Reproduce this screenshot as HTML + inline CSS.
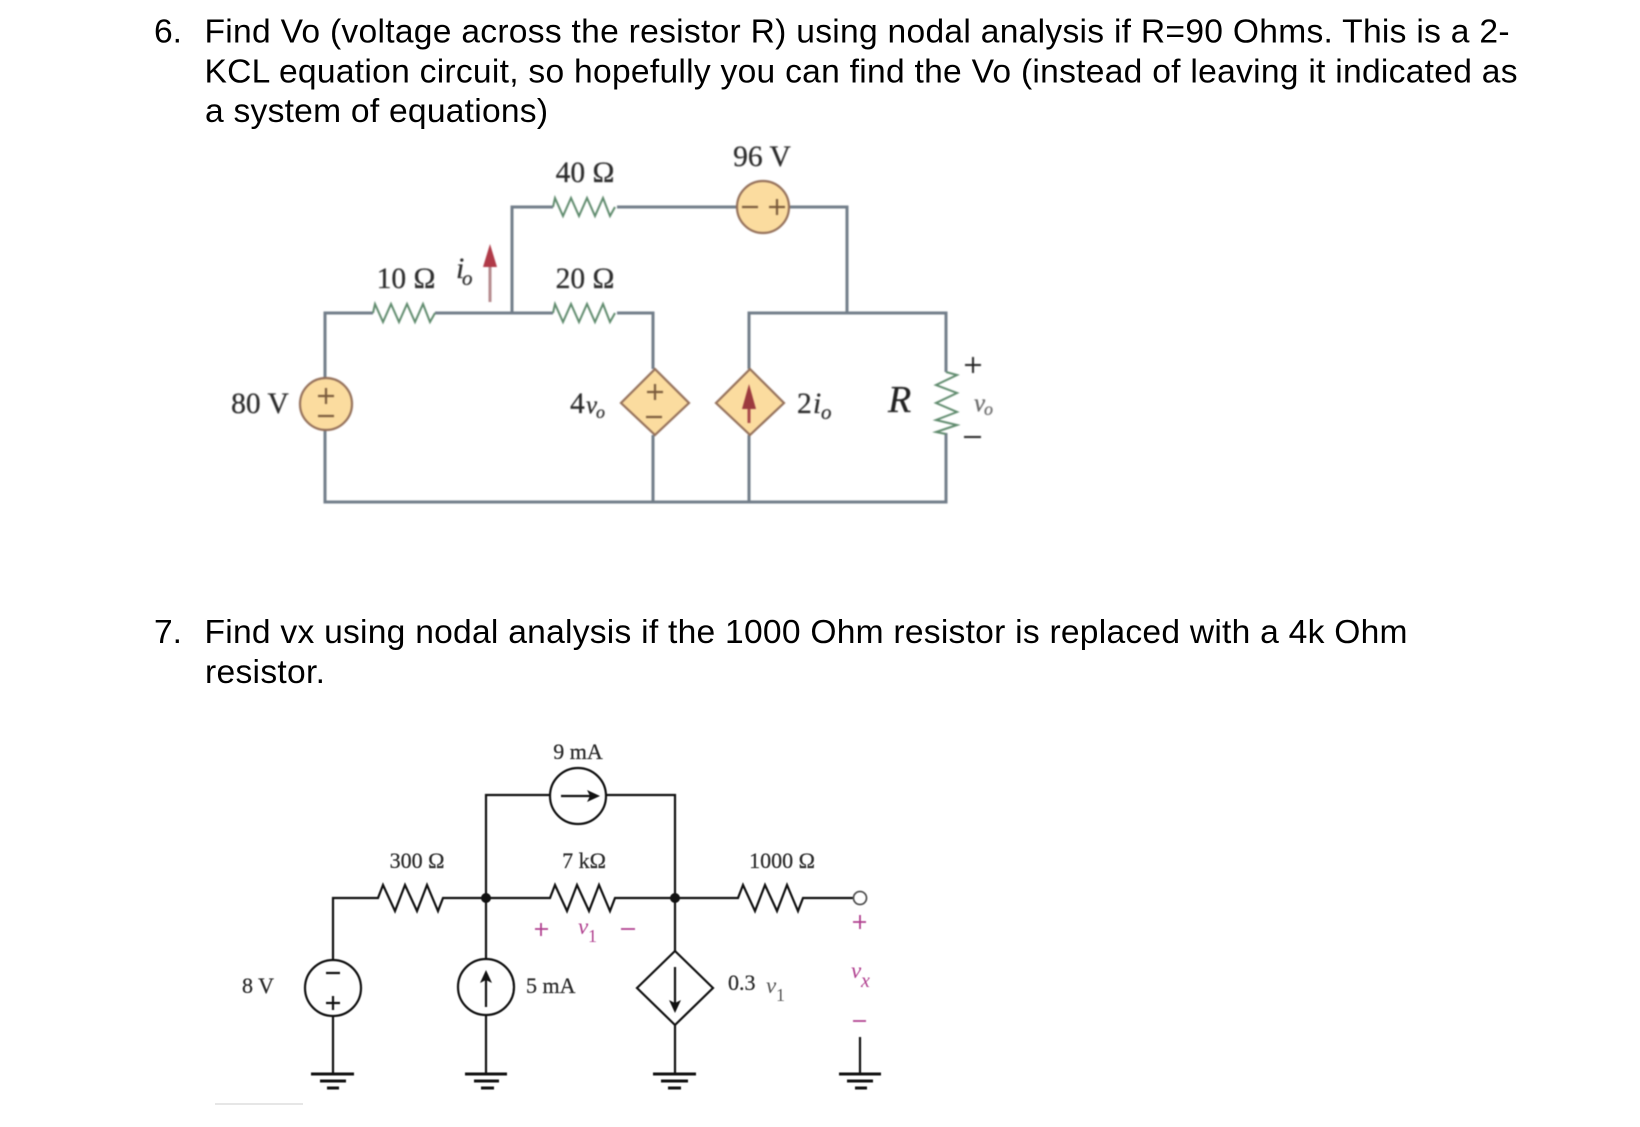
<!DOCTYPE html>
<html><head><meta charset="utf-8"><title>Nodal analysis problems</title>
<style>
html,body{margin:0;padding:0;background:#fff;width:1640px;height:1127px;overflow:hidden}
svg{display:block}
.q{font-family:"Liberation Sans",Arial,sans-serif;font-size:33.6px;fill:#000}
.s{font-family:"Liberation Serif",serif;fill:#2a2a2a;stroke:#2a2a2a;stroke-width:.25px}
.i{font-style:italic}
.c1{filter:blur(.7px)}
.c2{filter:blur(.45px)}
</style></head><body>
<svg width="1640" height="1127" viewBox="0 0 1640 1127" xmlns="http://www.w3.org/2000/svg">
<rect width="1640" height="1127" fill="#fff"/>
<text class="q" x="154" y="42.5">6.</text>
<text class="q" x="204.5" y="42.5" textLength="1305" lengthAdjust="spacing">Find Vo (voltage across the resistor R) using nodal analysis if R=90 Ohms. This is a 2-</text>
<text class="q" x="204.5" y="82.5" textLength="1313" lengthAdjust="spacing">KCL equation circuit, so hopefully you can find the Vo (instead of leaving it indicated as</text>
<text class="q" x="205" y="122" textLength="343" lengthAdjust="spacing">a system of equations)</text>
<text class="q" x="154" y="643">7.</text>
<text class="q" x="204.5" y="643" textLength="1203" lengthAdjust="spacing">Find vx using nodal analysis if the 1000 Ohm resistor is replaced with a 4k Ohm</text>
<text class="q" x="205" y="683" textLength="120" lengthAdjust="spacing">resistor.</text>

<g class="c1">
<g fill="none" stroke="#717d89" stroke-width="3">
<path d="M512 313V207H553M617 207H737M789 207H847V313"/>
<path d="M325 378V313H373M435 313H553M617 313H653V369M653 435V502M325 430V502H946V433M946 372V313H749V369M749 435V502"/>
</g>
<g fill="none" stroke="#5e8a6c" stroke-width="2">
<path d="M553 207l2 -9l8 18l8 -18l8 18l8 -18l8 18l8 -18l7 18l5 -9"/>
<path d="M553 313l2 -9l8 18l8 -18l8 18l8 -18l8 18l8 -18l7 18l5 -9"/>
<path d="M373 313l2 -9l8 18l8 -18l8 18l8 -18l8 18l8 -18l7 18l5 -9"/>
<path d="M946 372L957 375L936 385L957 393L936 403L957 412L936 420L957 425L936 432L946 434"/>
</g>
<g fill="#fbdc9f" stroke="#94705a" stroke-width="2.2">
<circle cx="326" cy="404" r="26"/>
<circle cx="763" cy="207" r="26"/>
<path d="M655 369L689 403L655 435L621 403Z"/>
<path d="M750 369L784 403L750 435L716 403Z"/>
</g>
<g fill="none" stroke="#7a5b3c" stroke-width="2.2">
<path d="M318 396H334M326 388V404M318 416H334"/>
<path d="M742 207H758M769 207H785M777 199V215"/>
<path d="M647 392H663M655 384V400M646 417H662"/>
</g>
<path d="M749 423V396" stroke="#a84a4a" stroke-width="3" fill="none"/>
<path d="M749 384L756 409H742Z" fill="#9c3a3e"/>
<path d="M490 302V262" stroke="#b58a8e" stroke-width="3" fill="none"/>
<path d="M490 244L497 267H483Z" fill="#b03a48"/>
<g stroke="#222" stroke-width="2" fill="none">
<path d="M965 365H981M973 357V373M964 437H981"/>
</g>
<g class="s" font-size="29.5">
<text x="585" y="182" text-anchor="middle">40 Ω</text>
<text x="585" y="288" text-anchor="middle">20 Ω</text>
<text x="406" y="288" text-anchor="middle">10 Ω</text>
<text x="762" y="166" text-anchor="middle">96 V</text>
<text x="260" y="413" text-anchor="middle">80 V</text>
<text x="570" y="413">4</text>
<text x="586" y="413" class="i" font-size="25">v</text>
<text x="596" y="418" class="i" font-size="18">o</text>
<text x="797" y="413">2</text>
<text x="813" y="413" class="i">i</text>
<text x="821" y="419" class="i" font-size="21">o</text>
<text x="456" y="278" class="i" font-size="30">i</text>
<text x="462" y="285" class="i" font-size="21">o</text>
<text x="888" y="412" class="i" font-size="38" fill="#222">R</text>
<text x="974" y="411" class="i" font-size="25" style="fill:#666;stroke:#666">v</text>
<text x="984" y="415" class="i" font-size="18" style="fill:#666;stroke:#666">o</text>
</g>
</g>

<g class="c2">
<g fill="none" stroke="#111" stroke-width="2.2">
<path d="M486 960V795H550M606 795H675V951M675 1025V1073"/>
<path d="M333 960V898H378L383 885L395 911L405 885L417 911L427 885L438 911L443 898H550L555 885L567 911L577 885L589 911L599 885L610 911L615 898H738L743 885L755 911L765 885L777 911L787 885L798 911L803 898H853"/>
<path d="M333 1016V1073M486 1016V1073M860 1037V1073"/>
<circle cx="333" cy="988" r="28"/>
<circle cx="486" cy="987" r="28"/>
<circle cx="578" cy="796" r="28"/>
<path d="M675 951L713 988L675 1025L637 988Z"/>
<path d="M561 796H592M486 1007V976M675 967V1006"/>
<path d="M326 973H340M326 1003H340M333 996V1010"/>
</g>
<g fill="#111">
<circle cx="486" cy="898" r="5"/><circle cx="675" cy="898" r="5"/>
<path d="M600 796L587 790L590 796L587 802Z"/>
<path d="M486 970L480 983L486 980L492 983Z"/>
<path d="M675 1013L669 1000L675 1003L681 1000Z"/>
</g>
<circle cx="860" cy="898" r="6.5" fill="#fff" stroke="#555" stroke-width="1.8"/>
<g fill="none" stroke="#111">
<path stroke-width="3" d="M311 1074H354M320 1081H346M327 1088H339"/>
<path stroke-width="3" d="M465 1074H507M474 1081H499M481 1088H494"/>
<path stroke-width="3" d="M653 1074H696M661 1081H688M668 1088H681"/>
<path stroke-width="3" d="M839 1074H881M847 1081H873M855 1088H867"/>
</g>
<g fill="none" stroke="#b0408f" stroke-width="1.8">
<path d="M535 929H548M541 923V936M621 929H635"/>
<path d="M853 922H866M860 915V929M853 1021H866"/>
</g>
<g class="s" font-size="22">
<text x="578" y="759" text-anchor="middle">9 mA</text>
<text x="417" y="868" text-anchor="middle">300 Ω</text>
<text x="584" y="868" text-anchor="middle">7 kΩ</text>
<text x="782" y="868" text-anchor="middle">1000 Ω</text>
<text x="258" y="993" text-anchor="middle">8 V</text>
<text x="526" y="993">5 mA</text>
<text x="728" y="990">0.3</text>
<text x="766" y="993" class="i" font-size="23" style="stroke:none;fill:#555">v</text>
<text x="776" y="1001" font-size="18" style="stroke:none;fill:#555">1</text>
<text x="578" y="934" class="i" font-size="23" style="fill:#b0408f;stroke:none">v</text>
<text x="588" y="942" font-size="18" style="fill:#b0408f;stroke:none">1</text>
<text x="851" y="978" class="i" font-size="23" style="fill:#b0408f;stroke:none">v</text>
<text x="861" y="987" class="i" font-size="20" style="fill:#b0408f;stroke:none">x</text>
</g>
</g>
<path d="M215 1104H303" stroke="#dedede" stroke-width="1.5"/>
</svg>
</body></html>
